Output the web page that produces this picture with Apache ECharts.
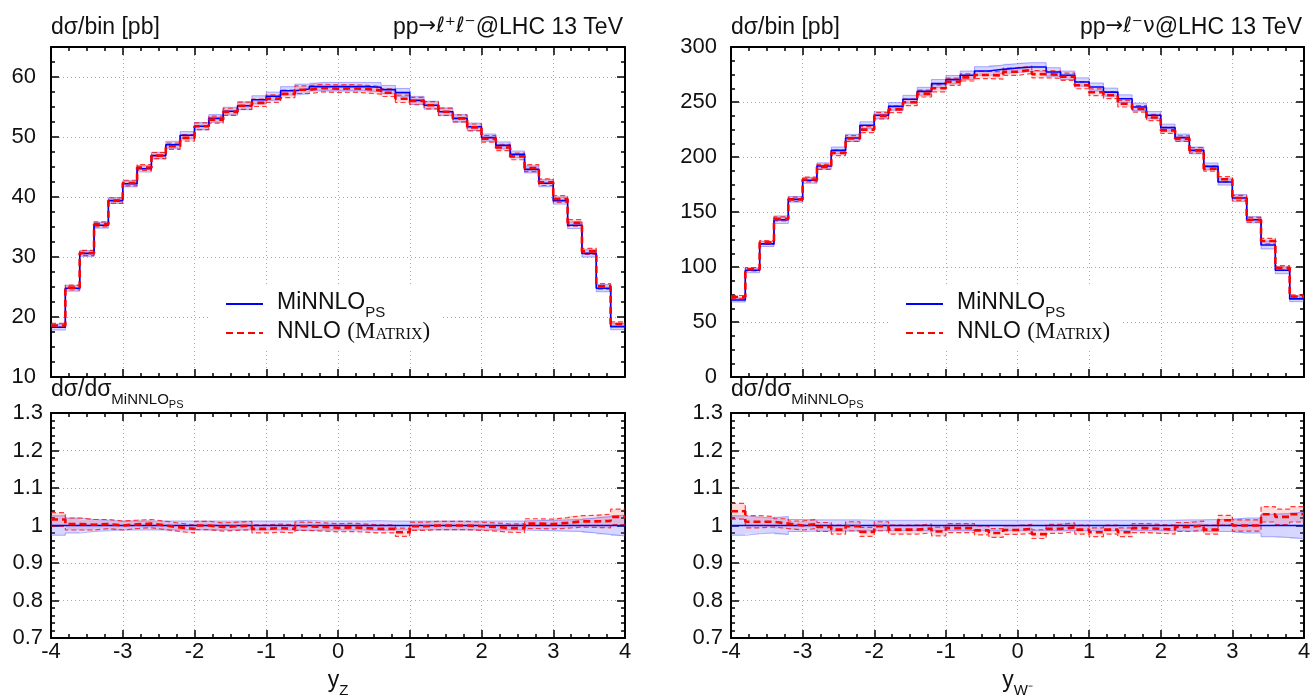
<!DOCTYPE html>
<html>
<head>
<meta charset="utf-8">
<script src="https://cdn.jsdelivr.net/npm/echarts@6/dist/echarts.min.js"></script>
<style>
  html, body { margin: 0; padding: 0; background: #fff; }
  #main { width: 1310px; height: 697px; }
</style>
</head>
<body>
<div id="main"></div>
<script>
// rapidity bin edges (both panels use the same 40 bins)
const binEdges = [-4.0, -3.8, -3.6, -3.4, -3.2, -3.0, -2.8, -2.6, -2.4, -2.2, -2.0, -1.8, -1.6, -1.4, -1.2, -1.0, -0.8, -0.6, -0.4, -0.2,
  0.0, 0.2, 0.4, 0.6, 0.8, 1.0, 1.2, 1.4, 1.6, 1.8, 2.0, 2.2, 2.4, 2.6, 2.8, 3.0, 3.2, 3.4, 3.6, 3.8, 4.0];

// pp -> l+ l- : MiNNLO_PS central [pb/bin]
const zMinnlo = [18.3, 24.8, 30.6, 35.3, 39.4, 42.2, 44.7, 46.9, 48.7, 50.3, 51.8, 53.1, 54.3, 55.2, 56.2, 56.8, 57.7, 58.0, 58.4, 58.4,
  58.4, 58.4, 58.3, 57.9, 57.4, 56.1, 55.3, 54.2, 53.1, 51.7, 49.9, 48.6, 47.1, 44.6, 42.3, 39.4, 35.3, 30.6, 24.8, 18.4];
// NNLO (MATRIX) / MiNNLO_PS
const zRatio = [1.016, 1.004, 1.002, 1.004, 1.0, 1.003, 1.005, 1.0, 0.995, 0.991, 1.0, 0.996, 0.998, 1.0, 0.991, 0.993, 0.991, 0.998, 0.996, 0.994,
  0.995, 0.993, 0.991, 0.991, 0.982, 0.998, 1.0, 1.0, 1.0, 0.998, 0.996, 0.993, 0.993, 1.005, 1.004, 1.007, 1.011, 1.011, 1.012, 1.023];
// relative half widths of the scale bands
const zMinnloBand = [0.026, 0.02, 0.016, 0.014, 0.012, 0.012, 0.012, 0.012, 0.012, 0.012, 0.012, 0.012, 0.012, 0.012, 0.012, 0.012, 0.012, 0.014, 0.012, 0.012,
  0.012, 0.012, 0.013, 0.012, 0.012, 0.012, 0.012, 0.012, 0.012, 0.012, 0.012, 0.012, 0.012, 0.013, 0.014, 0.015, 0.016, 0.02, 0.024, 0.028];
const zNnloBand = [0.018, 0.016, 0.014, 0.012, 0.012, 0.011, 0.011, 0.011, 0.011, 0.011, 0.011, 0.011, 0.011, 0.011, 0.011, 0.011, 0.011, 0.011, 0.011, 0.011,
  0.011, 0.011, 0.011, 0.011, 0.011, 0.011, 0.011, 0.011, 0.011, 0.011, 0.011, 0.011, 0.012, 0.013, 0.013, 0.014, 0.015, 0.016, 0.018, 0.02];

// pp -> l- nu
const wMinnlo = [70, 97, 121, 143, 161.5, 178.8, 191.8, 206, 217.3, 228.8, 237.9, 246, 252.5, 259.7, 266.7, 270.3, 274.3, 278.2, 279.7, 280.9,
  281.8, 281.8, 277.3, 274.3, 268.2, 263.6, 259, 253, 245.5, 238, 226.7, 217.6, 206, 191.5, 177.3, 162.7, 143, 120, 97, 71];
const wRatio = [1.038, 1.01, 1.01, 1.005, 1.0, 1.004, 0.996, 0.989, 0.998, 0.983, 0.998, 0.989, 0.989, 0.992, 0.984, 0.993, 0.993, 0.987, 0.98, 0.988,
  0.991, 0.977, 0.991, 0.995, 0.989, 0.982, 0.989, 0.982, 0.993, 0.991, 0.989, 0.996, 1.0, 0.989, 1.014, 1.0, 1.0, 1.03, 1.023, 1.03];
const wMinnloBand = [0.026, 0.022, 0.02, 0.024, 0.016, 0.015, 0.015, 0.015, 0.015, 0.014, 0.014, 0.014, 0.014, 0.014, 0.014, 0.014, 0.014, 0.014, 0.014, 0.014,
  0.014, 0.014, 0.014, 0.014, 0.014, 0.014, 0.014, 0.014, 0.014, 0.014, 0.014, 0.015, 0.015, 0.016, 0.016, 0.02, 0.02, 0.03, 0.032, 0.035];
const wNnloBand = [0.02, 0.016, 0.014, 0.013, 0.012, 0.012, 0.012, 0.012, 0.012, 0.012, 0.012, 0.012, 0.012, 0.012, 0.012, 0.012, 0.012, 0.012, 0.012, 0.012,
  0.012, 0.012, 0.012, 0.012, 0.012, 0.012, 0.012, 0.012, 0.012, 0.012, 0.012, 0.012, 0.012, 0.012, 0.013, 0.015, 0.015, 0.02, 0.02, 0.02];

const FONT = 'Liberation Sans';
const SERIF = 'Liberation Serif';
const SYM = 'DejaVu Sans';
const INK = '#111';
const BLUE = '#0000ff';
const RED = '#ff0000';

function rs(family, size, lh, top, left) {
  return { fontFamily: family, fontSize: size, fontWeight: 'normal', lineHeight: lh, verticalAlign: 'top',
    padding: [top || 0, 0, 0, left || 0], color: INK };
}
const rich = {
  m: rs(FONT, 23, 26),
  g: rs(SYM, 21, 26),
  s: rs(FONT, 15, 15, 14),
  ss: rs(FONT, 11, 11, 21.5),
  lm: rs(FONT, 23, 26, 0, 9),
  sc: rs(SERIF, 23, 26),
  scs: rs(SERIF, 16, 16, 6.5)
};

const grids = [
  { left: 51, top: 47, width: 574, height: 330 },
  { left: 51, top: 413, width: 574, height: 225 },
  { left: 731, top: 47, width: 573, height: 330 },
  { left: 731, top: 413, width: 573, height: 225 }
].map(g => Object.assign({ outerBoundsMode: 'none', containLabel: false }, g));

const xAxes = [];
const yAxes = [];
const gridLine = { show: true, lineStyle: { color: '#aaa', width: 1, type: [1, 3] } };
const tickLine = { color: '#000', width: 1.5 };
const labelFont = { fontFamily: FONT, fontSize: 22, color: INK };

function addAxes(g, y, xName) {
  // x: bottom major, bottom minor, top major, top minor
  [['bottom', 1, 8], ['bottom', 0.25, 4], ['top', 1, 8], ['top', 0.25, 4]].forEach(([pos, iv, len], k) => {
    xAxes.push({
      type: 'value', gridIndex: g, position: pos, min: -4, max: 4, interval: iv,
      axisLine: { show: iv === 1, onZero: false, lineStyle: { color: '#000', width: 2 } },
      axisTick: { show: true, inside: true, length: len, lineStyle: tickLine },
      axisLabel: Object.assign({ show: k === 0 && !!xName, margin: 3 }, labelFont),
      splitLine: k === 0 ? gridLine : { show: false },
      name: k === 0 && xName ? xName : '',
      nameLocation: 'middle', nameGap: 31,
      nameTextStyle: { rich: rich }
    });
  });
  [['left', y.major, 8], ['left', y.minor, 4], ['right', y.major, 8], ['right', y.minor, 4]].forEach(([pos, iv, len], k) => {
    yAxes.push({
      type: 'value', gridIndex: g, position: pos, min: y.min, max: y.max, interval: iv,
      axisLine: { show: k === 0 || k === 2, onZero: false, lineStyle: { color: '#000', width: 2 } },
      axisTick: { show: true, inside: true, length: len, lineStyle: tickLine },
      axisLabel: Object.assign({ show: k === 0, margin: y.margin, showMaxLabel: y.showMax }, labelFont),
      splitLine: k === 0 ? gridLine : { show: false }
    });
  });
}

addAxes(0, { min: 10, max: 65, major: 10, minor: 2.5, margin: 15, showMax: false });
addAxes(1, { min: 0.7, max: 1.3, major: 0.1, minor: 0.02, margin: 8, showMax: true }, '{m|y}{s|Z}');
addAxes(2, { min: 0, max: 300, major: 50, minor: 12.5, margin: 14, showMax: true });
addAxes(3, { min: 0.7, max: 1.3, major: 0.1, minor: 0.02, margin: 8, showMax: true }, '{m|y}{s|W⁻}');

function stepPoints(vals) {
  const pts = vals.map((v, i) => [binEdges[i], v]);
  pts.push([binEdges[vals.length], vals[vals.length - 1]]);
  return pts;
}

function band(g, lo, hi, fill, z) {
  return {
    type: 'custom', xAxisIndex: 4 * g, yAxisIndex: 4 * g, silent: true, z: z, clip: true,
    encode: { x: [0, 1], y: [2, 3] },
    data: lo.map((l, i) => [binEdges[i], binEdges[i + 1], l, hi[i]]),
    renderItem: (params, api) => {
      const a = api.coord([api.value(0), api.value(3)]);
      const b = api.coord([api.value(1), api.value(2)]);
      return {
        type: 'rect',
        shape: { x: a[0], y: a[1], width: b[0] - a[0], height: b[1] - a[1] },
        style: { fill: fill }
      };
    }
  };
}

function step(g, vals, color, width, type, z, name) {
  return {
    name: name, type: 'line', xAxisIndex: 4 * g, yAxisIndex: 4 * g, step: 'end',
    symbol: 'none', silent: true, z: z, clip: true,
    data: stepPoints(vals),
    lineStyle: { color: color, width: width, type: type },
    itemStyle: { color: color }
  };
}

const series = [];
function addPanel(gTop, gRat, minnlo, ratio, mBand, nBand) {
  const nnlo = minnlo.map((v, i) => v * ratio[i]);
  const unit = minnlo.map(v => v / v);
  [[gTop, minnlo, nnlo], [gRat, unit, ratio]].forEach(([g, m, n]) => {
    const mLo = m.map((v, i) => v * (1 - mBand[i]));
    const mHi = m.map((v, i) => v * (1 + mBand[i]));
    const nLo = n.map((v, i) => v * (1 - nBand[i]));
    const nHi = n.map((v, i) => v * (1 + nBand[i]));
    series.push(band(g, mLo, mHi, 'rgba(90,90,255,0.25)', 1));
    series.push(band(g, nLo, nHi, 'rgba(255,60,60,0.18)', 2));
    series.push(step(g, mLo, 'rgba(80,80,255,0.45)', 1, 'solid', 3));
    series.push(step(g, mHi, 'rgba(80,80,255,0.45)', 1, 'solid', 3));
    series.push(step(g, nLo, 'rgba(255,0,0,0.75)', 1.2, [5, 3], 4));
    series.push(step(g, nHi, 'rgba(255,0,0,0.75)', 1.2, [5, 3], 4));
    series.push(step(g, m, BLUE, 1.6, 'solid', 5, 'MiNNLO'));
    series.push(step(g, n, RED, 2.6, [7, 4], 6, 'NNLO'));
  });
}
addPanel(0, 1, zMinnlo, zRatio, zMinnloBand, zNnloBand);
addPanel(2, 3, wMinnlo, wRatio, wMinnloBand, wNnloBand);

function legendAt(left, top) {
  return {
    left: left, top: top, orient: 'vertical', data: ['MiNNLO', 'NNLO'],
    itemWidth: 37, itemHeight: 12, itemGap: 0,
    backgroundColor: '#fff', padding: [6, 12, 8, 15],
    selectedMode: false,
    itemStyle: { opacity: 0 },
    formatter: name => name === 'MiNNLO' ? '{lm|MiNNLO}{s|PS}' : '{lm|NNLO }{sc|(M}{scs|ATRIX}{sc|)}',
    textStyle: { rich: rich }
  };
}

const titles = [
  { text: '{m|dσ/bin [pb]}', left: 51, top: 16 },
  { text: '{m|pp}{g|→ℓ⁺ℓ⁻}{m|@LHC 13 TeV}', right: 687, top: 16 },
  { text: '{m|dσ/dσ}{s|MiNNLO}{ss|PS}', left: 51, top: 378 },
  { text: '{m|dσ/bin [pb]}', left: 731, top: 16 },
  { text: '{m|pp}{g|→ℓ⁻ν}{m|@LHC 13 TeV}', right: 8, top: 16 },
  { text: '{m|dσ/dσ}{s|MiNNLO}{ss|PS}', left: 731, top: 378 }
].map(t => Object.assign({ padding: 0, textStyle: { fontWeight: 'normal', rich: rich } }, t));

const chart = echarts.init(document.getElementById('main'));
chart.setOption({
  animation: false,
  backgroundColor: '#fff',
  title: titles,
  legend: [legendAt(210, 285), legendAt(890, 285)],
  grid: grids,
  xAxis: xAxes,
  yAxis: yAxes,
  series: series
});
</script>
</body>
</html>
